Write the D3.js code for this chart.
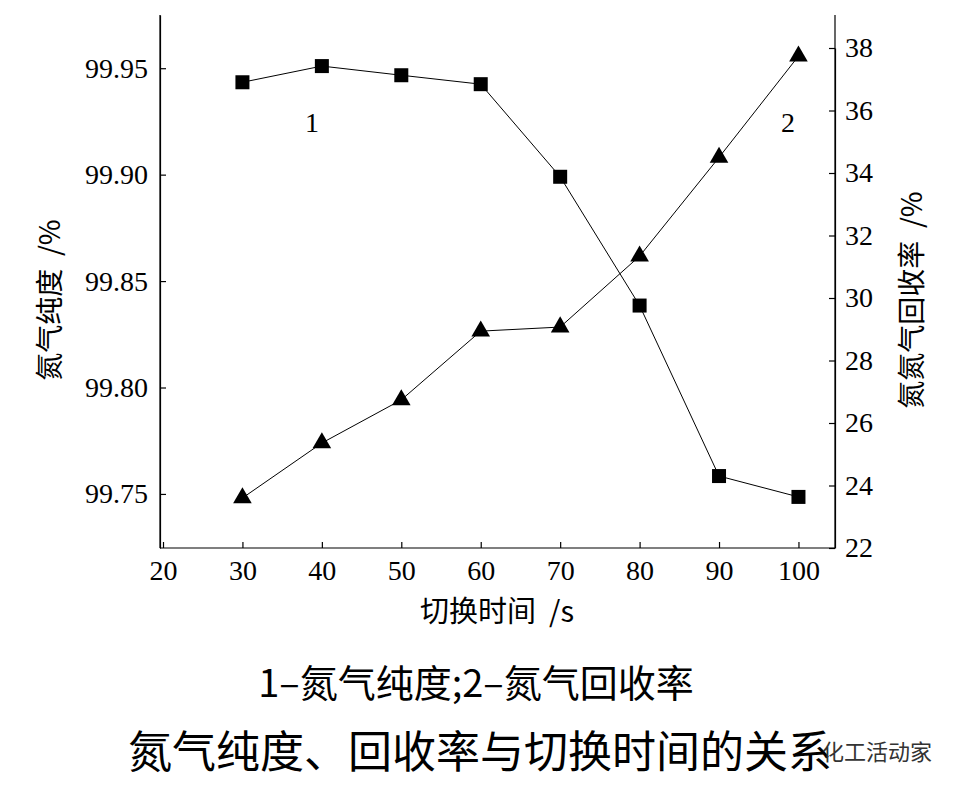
<!DOCTYPE html>
<html><head><meta charset="utf-8">
<script src="https://cdn.jsdelivr.net/npm/d3@7"></script>
<style>body{margin:0;background:#fff}</style></head>
<body><svg id="c" width="963" height="794"></svg>
<script>
const times=[30,40,50,60,70,80,90,100];
const purity=[99.9434,99.951,99.9467,99.9425,99.899,99.8385,99.7584,99.7486];
const recovery=[23.6,25.36,26.74,28.94,29.07,31.34,34.5,37.74];
const xTicks=[20,30,40,50,60,70,80,90,100];
const yLeftTicks=[99.75,99.80,99.85,99.90,99.95];
const yRightTicks=[22,24,26,28,30,32,34,36,38];

const svg=d3.select("#c");
const L=160,R=835,T=15,B=548;
const x=d3.scaleLinear().domain([20,104.6]).range([L+3,R]);
const yl=d3.scaleLinear().domain([99.7246,99.975]).range([B,T]);
const yr=d3.scaleLinear().domain([22,38]).range([B,48]);
const serif="Liberation Serif, DejaVu Serif, serif", cjk="Noto Sans CJK SC, sans-serif";

svg.append("line").attr("x1",L).attr("x2",L).attr("y1",T).attr("y2",B).attr("stroke","#000").attr("stroke-width",1.2);
svg.append("line").attr("x1",R).attr("x2",R).attr("y1",T).attr("y2",B).attr("stroke","#000").attr("stroke-width",1.2);

const ax=g=>g.call(s=>s.selectAll("path,line").attr("stroke","#000").attr("stroke-width",1.2))
  .call(s=>s.selectAll("text").attr("font-family",serif).attr("font-size",28).attr("fill","#000"));
svg.append("g").attr("transform",`translate(0,${B})`)
  .call(d3.axisBottom(x).tickValues(xTicks).tickFormat(d3.format("d")).tickSizeInner(-6).tickSizeOuter(0).tickPadding(12)).call(ax)
  .select(".domain").attr("d",`M${L},0H${R}`);
svg.append("g").attr("transform",`translate(${L},0)`)
  .call(d3.axisLeft(yl).tickValues(yLeftTicks).tickFormat(d3.format(".2f")).tickSizeInner(-6).tickSizeOuter(0).tickPadding(12)).call(ax);
svg.append("g").attr("transform",`translate(${R},0)`)
  .call(d3.axisRight(yr).tickValues(yRightTicks).tickFormat(d3.format("d")).tickSizeInner(-6).tickSizeOuter(0).tickPadding(10)).call(ax);

const line1=d3.line().x((d,i)=>x(times[i])).y(d=>yl(d));
const line2=d3.line().x((d,i)=>x(times[i])).y(d=>yr(d));
svg.append("path").attr("d",line1(purity)).attr("fill","none").attr("stroke","#000").attr("stroke-width",1);
svg.append("path").attr("d",line2(recovery)).attr("fill","none").attr("stroke","#000").attr("stroke-width",1);
svg.selectAll(".sq").data(purity).join("rect").attr("x",(d,i)=>x(times[i])-7).attr("y",d=>yl(d)-7).attr("width",14).attr("height",14).attr("fill","#000");
svg.selectAll(".tr").data(recovery).join("path").attr("transform",(d,i)=>`translate(${x(times[i])},${yr(d)})`)
  .attr("d",d3.symbol(d3.symbolTriangle,150)).attr("fill","#000");

svg.append("text").attr("x",312).attr("y",132).attr("text-anchor","middle").attr("font-family",serif).attr("font-size",28).text("1");
svg.append("text").attr("x",788).attr("y",132).attr("text-anchor","middle").attr("font-family",serif).attr("font-size",28).text("2");

svg.append("text").attr("x",497).attr("y",622).attr("text-anchor","middle").attr("font-family",cjk).attr("font-size",29).attr("xml:space","preserve").text("切换时间  /s");
svg.append("text").attr("transform","translate(60,300) rotate(-90)").attr("text-anchor","middle").attr("font-family",cjk).attr("font-size",28).attr("xml:space","preserve").text("氮气纯度  /%");
svg.append("text").attr("transform","translate(922,300) rotate(-90)").attr("text-anchor","middle").attr("font-family",cjk).attr("font-size",28).attr("xml:space","preserve").text("氮氮气回收率  /%");
svg.append("text").attr("x",476).attr("y",697).attr("text-anchor","middle").attr("font-family",cjk).attr("font-size",38).text("1–氮气纯度;2–氮气回收率");
svg.append("text").attr("x",480).attr("y",768).attr("text-anchor","middle").attr("font-family",cjk).attr("font-size",44).text("氮气纯度、回收率与切换时间的关系");
svg.append("text").attr("x",932).attr("y",760).attr("text-anchor","end").attr("font-family",cjk).attr("font-size",22).attr("fill","#333").text("化工活动家");
</script></body></html>
